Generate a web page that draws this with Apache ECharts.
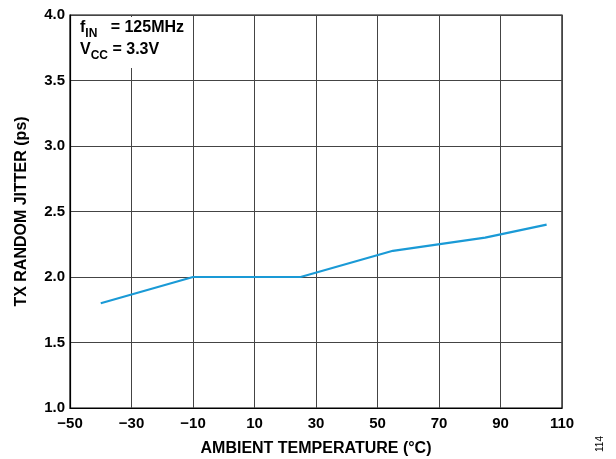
<!DOCTYPE html>
<html><head><meta charset="utf-8">
<script src="https://cdn.jsdelivr.net/npm/echarts@6/dist/echarts.min.js"></script>
<style>html,body{margin:0;padding:0;background:#fff}#c{width:616px;height:459px}</style>
</head><body><div id="c"></div>
<script>
const temperature = [-40, -10, 25, 55, 85, 105];
const jitter = [1.8, 2.0, 2.0, 2.2, 2.3, 2.4];
const xTicks = [-50, -30, -10, 10, 30, 50, 70, 90, 110];
const yTicks = [1.0, 1.5, 2.0, 2.5, 3.0, 3.5, 4.0];

const font = 'Liberation Sans, Arial, sans-serif';
const chart = echarts.init(document.getElementById('c'), null, {renderer: 'canvas'});
chart.setOption({
  animation: false,
  backgroundColor: '#fff',
  grid: {left: 70, right: 54, top: 15, bottom: 51, show: true, borderColor: '#000', borderWidth: 1.2,
    containLabel: false, outerBoundsMode: 'none'},
  xAxis: {
    type: 'value', min: xTicks[0], max: xTicks[xTicks.length - 1], interval: 20,
    axisLine: {show: true, onZero: false, lineStyle: {color: '#000', width: 1.2}},
    axisTick: {show: false},
    splitLine: {show: true, lineStyle: {color: '#444', width: 1}},
    axisLabel: {color: '#000', fontFamily: font, fontWeight: 'bold', fontSize: 15, margin: 8,
      formatter: v => (v < 0 ? '\u2212' + Math.abs(v) : String(v))},
    name: 'AMBIENT TEMPERATURE (°C)', nameLocation: 'middle', nameGap: 33,
    nameTextStyle: {color: '#000', fontFamily: font, fontWeight: 'bold', fontSize: 16}
  },
  yAxis: {
    type: 'value', min: yTicks[0], max: yTicks[yTicks.length - 1], interval: 0.5,
    axisLine: {show: true, onZero: false, lineStyle: {color: '#000', width: 1.2}},
    axisTick: {show: false},
    splitLine: {show: true, lineStyle: {color: '#444', width: 1}},
    axisLabel: {color: '#000', fontFamily: font, fontWeight: 'bold', fontSize: 15, margin: 5,
      formatter: v => v.toFixed(1)},
    name: 'TX RANDOM JITTER (ps)', nameLocation: 'middle', nameGap: 40,
    nameTextStyle: {color: '#000', fontFamily: font, fontWeight: 'bold', fontSize: 16}
  },
  series: [{
    type: 'line', data: temperature.map((t, i) => [t, jitter[i]]),
    symbol: 'none', lineStyle: {color: '#1a9ad6', width: 2.2}, z: 5
  }],
  graphic: [
    {type: 'rect', shape: {x: 76, y: 17, width: 112, height: 51}, style: {fill: '#fff'}, z: 10},
    {type: 'text', left: 80, top: 20, z: 11, style: {
      text: '{m|f}{s|IN}{m|   = 125MHz}\n{m|V}{s|CC}{m| = 3.3V}',
      rich: {
        m: {fontFamily: font, fontWeight: 'bold', fontSize: 16, fill: '#000', lineHeight: 22, verticalAlign: 'bottom'},
        s: {fontFamily: font, fontWeight: 'bold', fontSize: 12, fill: '#000', lineHeight: 22, verticalAlign: 'bottom', padding: [0, 0, -4, 0]}
      }
    }},
    {type: 'text', x: 595, y: 452, rotation: Math.PI / 2, z: 11, style: {
      text: '114', fontFamily: font, fontSize: 10, fill: '#000'
    }}
  ]
});
</script></body></html>
